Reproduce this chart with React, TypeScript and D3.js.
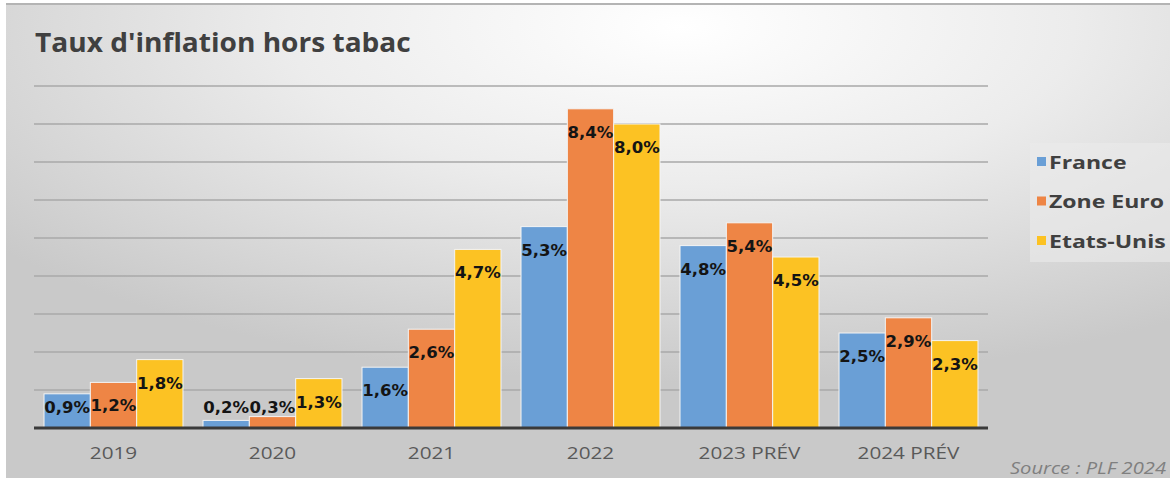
import React from "react";
import * as d3 from "d3";

const categories = ["2019", "2020", "2021", "2022", "2023 PRÉV", "2024 PRÉV"];
const seriesNames = ["France", "Zone Euro", "Etats-Unis"];
const france = [0.9, 0.2, 1.6, 5.3, 4.8, 2.5];
const zoneEuro = [1.2, 0.3, 2.6, 8.4, 5.4, 2.9];
const etatsUnis = [1.8, 1.3, 4.7, 8.0, 4.5, 2.3];
const yTicks = [0, 1, 2, 3, 4, 5, 6, 7, 8, 9];

const colors = ["#6a9fd6", "#ee8545", "#fcc223"];
const allSeries = [france, zoneEuro, etatsUnis];

const W = 1170;
const H = 481;
const left = 34;
const right = 988;
const base = 428;

const fmt = (v: number) => v.toFixed(1).replace(".", ",") + "%";

export default function App() {
  const x = d3.scaleBand().domain(categories).range([left, right]).paddingInner(0.126).paddingOuter(0.063);
  const xs = d3.scaleBand().domain(seriesNames).range([0, x.bandwidth()]);
  const y = d3.scaleLinear().domain([0, 9]).range([base, 86]);

  return (
    <svg width={W} height={H} style={{ position: "absolute", left: 0, top: 0 }}>
      <defs>
        <radialGradient id="bg" cx="0.58" cy="0.05" r="0.75">
          <stop offset="0" stopColor="#ffffff" />
          <stop offset="0.45" stopColor="#ececec" />
          <stop offset="1" stopColor="#c9c9c9" />
        </radialGradient>
      </defs>
      <rect x={0} y={0} width={W} height={H} fill="#ffffff" />
      <rect x={6} y={3} width={W - 6} height={H - 6} fill="url(#bg)" />
      <line x1={6} x2={W} y1={4} y2={4} stroke="#b4b4b4" strokeWidth={2} />

      <text
        transform="translate(35,52) scale(1.04,1)"
        fontFamily="Open Sans"
        fontWeight={700}
        fontSize={27}
        fill="#404040"
      >
        Taux d'inflation hors tabac
      </text>

      {yTicks.slice(1).map((t) => (
        <line key={t} x1={left} x2={right} y1={y(t)} y2={y(t)} stroke="#a8a8a8" strokeWidth={1.5} />
      ))}

      {categories.map((c, i) => (
        <g key={c} transform={`translate(${x(c)},0)`}>
          {allSeries.map((s, k) => (
            <rect
              key={k}
              x={xs(seriesNames[k])}
              y={y(s[i])}
              width={xs.bandwidth()}
              height={base - y(s[i])}
              fill={colors[k]}
              stroke="#f4f4f4"
              strokeWidth={1}
            />
          ))}
          {allSeries.map((s, k) => (
            <text
              key={"l" + k}
              x={(xs(seriesNames[k]) as number) + xs.bandwidth() / 2}
              y={Math.min(y(s[i]) + 29, base - 15)}
              textAnchor="middle"
              fontFamily="DejaVu Sans"
              fontWeight={700}
              fontSize={16.5}
              fill="#141414"
            >
              {fmt(s[i])}
            </text>
          ))}
          <text
            transform={`translate(${x.bandwidth() / 2},459) scale(1.22,1)`}
            textAnchor="middle"
            fontFamily="Open Sans"
            fontSize={17}
            fill="#595959"
          >
            {c}
          </text>
        </g>
      ))}

      <line x1={left} x2={right} y1={base} y2={base} stroke="#3a3a3a" strokeWidth={3} />

      <rect x={1030} y={143} width={140} height={119} fill="#ebebeb" opacity={0.6} />
      {seriesNames.map((n, k) => (
        <g key={n} transform={`translate(1037,${162 + k * 39.5})`}>
          <rect x={0} y={-5} width={9} height={9} fill={colors[k]} />
          <text
            transform="translate(12,6.5) scale(1.28,1)"
            fontFamily="Open Sans"
            fontWeight={700}
            fontSize={18}
            fill="#404040"
          >
            {n}
          </text>
        </g>
      ))}

      <text
        transform="translate(1166,474) scale(1.26,1)"
        textAnchor="end"
        fontFamily="Open Sans"
        fontStyle="italic"
        fontSize={16}
        fill="#7f7f7f"
      >
        Source : PLF 2024
      </text>
    </svg>
  );
}
